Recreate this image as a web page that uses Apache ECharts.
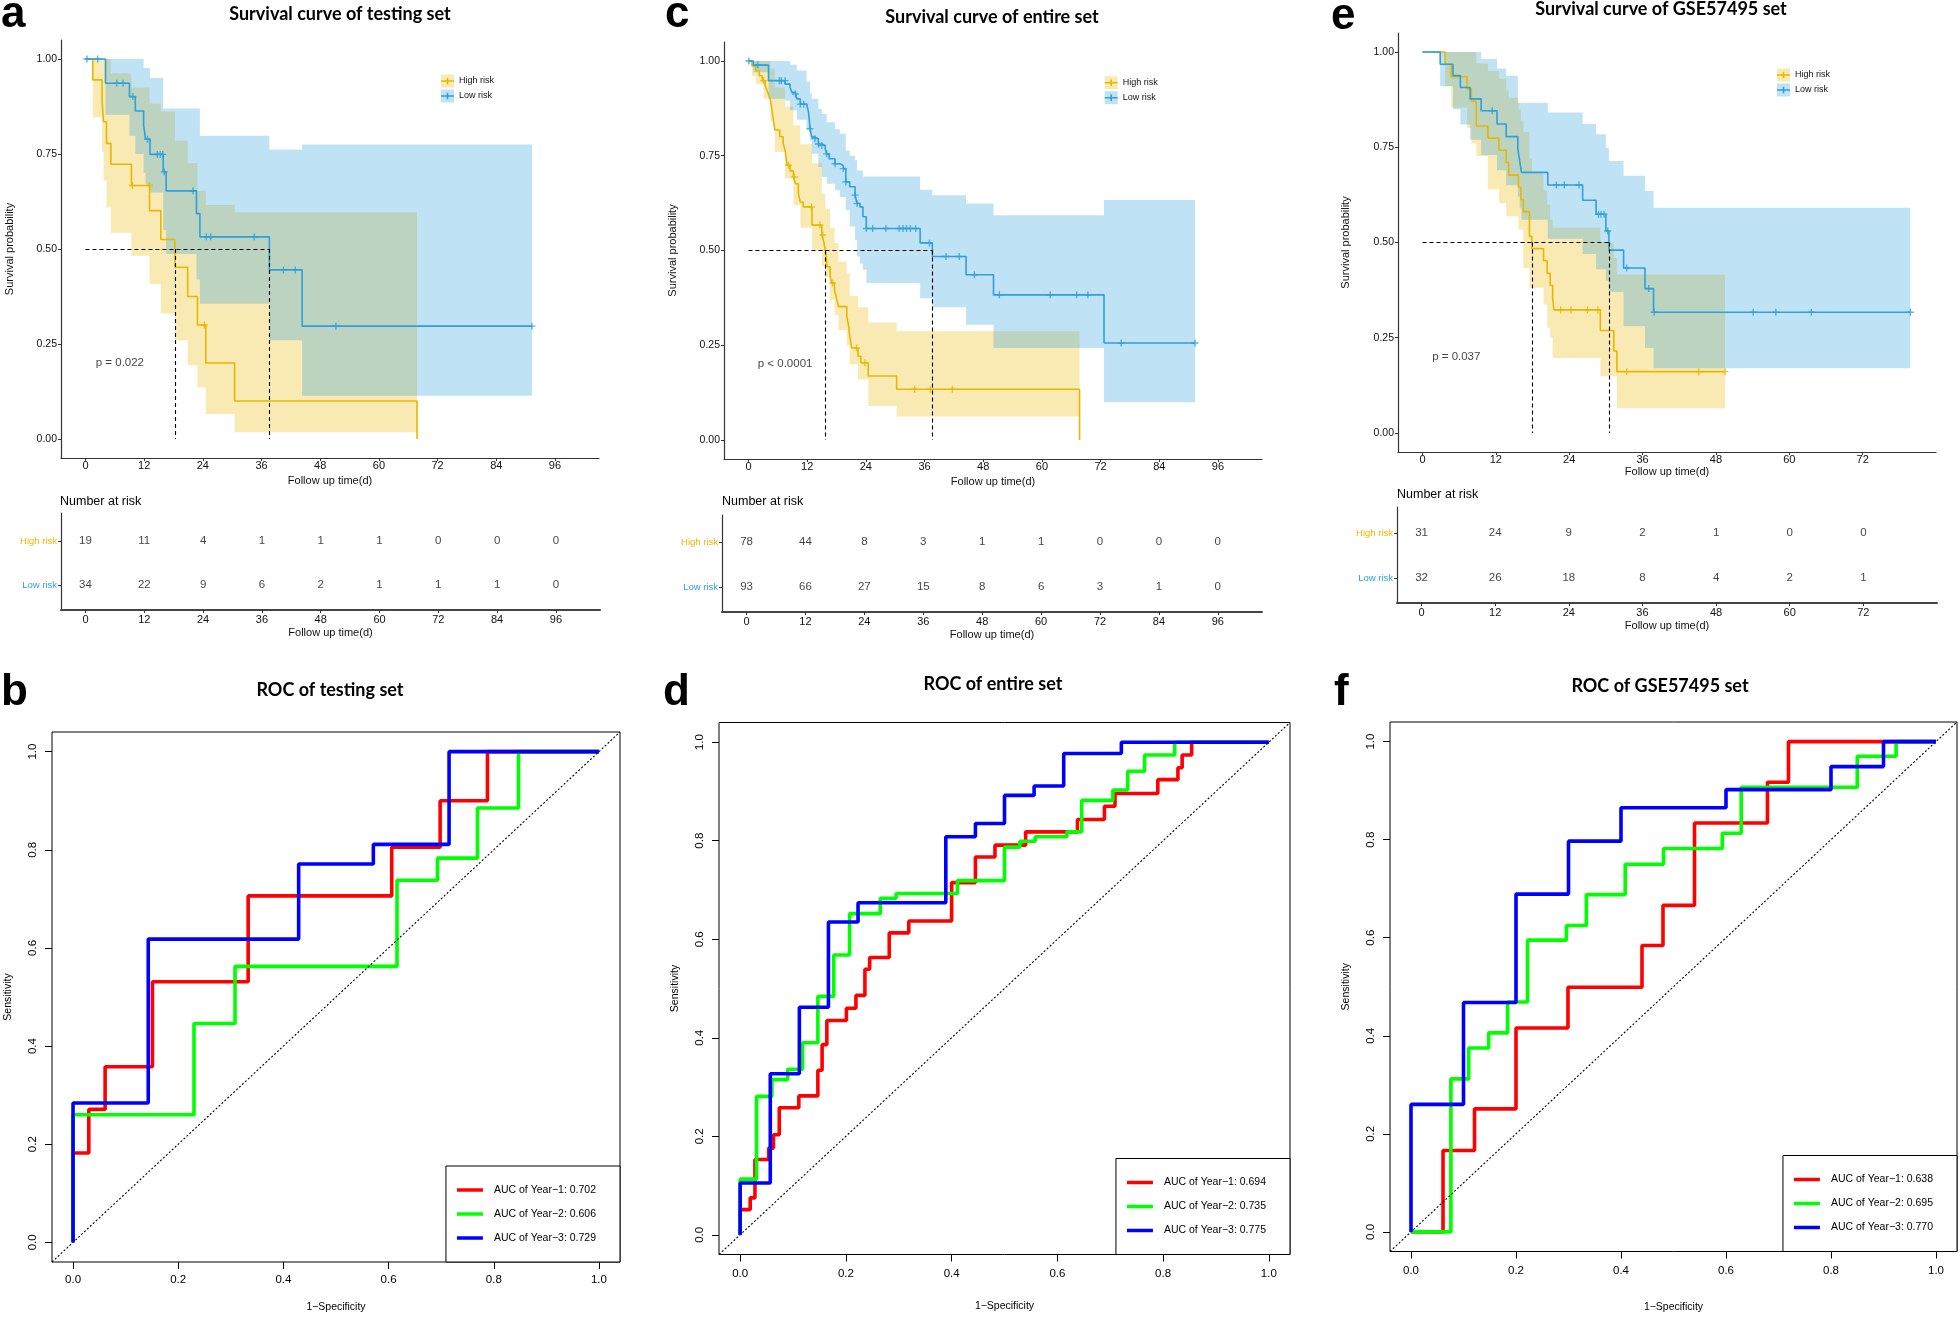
<!DOCTYPE html>
<html><head><meta charset="utf-8">
<script src="https://cdn.jsdelivr.net/npm/echarts@6/dist/echarts.min.js"></script>
<style>html,body{margin:0;padding:0;background:#fff}#c{width:1960px;height:1319px}</style>
</head><body><div id="c"></div>
<script>
// ---------------- DATA ----------------
const kmTicksAC = [0,12,24,36,48,60,72,84,96];
const kmTicksE = [0,12,24,36,48,60,72];
const survTicks = [0,0.25,0.5,0.75,1];
const rocTicks = [0,0.2,0.4,0.6,0.8,1];
const riskRows = ['Low risk','High risk'];

// Panel a: survival curve of testing set  [time, survival]
const kmA_high = [[0,1],[1.5,0.945],[3.4,0.888],[3.7,0.835],[4.3,0.778],[5.2,0.723],[9.4,0.667],[13.1,0.601],[15.4,0.525],[18.3,0.452],[20.9,0.375],[22.9,0.30],[24.6,0.20],[30.5,0.10],[67.8,0]];
const kmA_highCens = [[9.6,0.667],[13.1,0.667],[24.3,0.30]];
const kmA_highBand = [[0,1,1],[1.5,0.846,1],[3.4,0.756,1],[3.7,0.68,1],[4.3,0.61,1],[5.2,0.543,0.962],[9.4,0.482,0.925],[13.1,0.408,0.883],[15.4,0.33,0.862],[18.3,0.26,0.785],[20.9,0.194,0.726],[22.9,0.136,0.653],[24.6,0.066,0.616],[30.5,0.018,0.597]];
const kmA_highEnd = 67.8;
const kmA_low = [[0,1],[4.1,0.936],[9.0,0.901],[10.2,0.863],[11.9,0.824],[12.3,0.789],[13.2,0.749],[15.9,0.703],[16.5,0.653],[22.7,0.593],[23.4,0.532],[37.6,0.445],[44.3,0.297],[91.3,0.297]];
const kmA_lowCens = [[0.3,1],[2.5,1],[6.4,0.936],[7.7,0.936],[9.7,0.901],[12.7,0.789],[14.7,0.749],[15.3,0.749],[15.8,0.749],[16.1,0.703],[22.0,0.653],[24.7,0.532],[25.6,0.532],[34.5,0.532],[40.5,0.445],[42.9,0.445],[51.2,0.297],[91.3,0.297]];
const kmA_lowBand = [[0,1,1],[4.1,0.853,1],[9.0,0.798,1],[10.2,0.75,1],[11.9,0.70,0.976],[12.3,0.67,0.976],[13.2,0.649,0.95],[15.9,0.55,0.87],[16.5,0.487,0.87],[22.7,0.42,0.87],[23.4,0.356,0.798],[37.6,0.26,0.762],[44.3,0.114,0.775]];
const kmA_lowEnd = 91.3;
const kmA_median = [18.3, 37.6];
const kmA_p = 'p = 0.022';
const kmA_pPos = [2, 0.2];

// Panel c: survival curve of entire set
const kmC_high = [[0,1],[0.7,0.987],[1.5,0.974],[2.2,0.961],[2.8,0.948],[3.4,0.935],[3.8,0.922],[4.2,0.909],[4.5,0.896],[4.8,0.870],[5.1,0.844],[5.4,0.818],[6.4,0.80],[7.1,0.782],[7.5,0.764],[7.9,0.725],[8.5,0.71],[9.2,0.694],[9.6,0.676],[10.2,0.65],[10.6,0.628],[11.2,0.615],[13.0,0.567],[15.0,0.541],[15.4,0.523],[15.7,0.501],[15.9,0.484],[16.1,0.457],[16.7,0.431],[17.0,0.414],[17.6,0.396],[18.0,0.374],[18.4,0.352],[20.1,0.326],[20.5,0.30],[20.7,0.274],[21.1,0.243],[22.4,0.221],[23.0,0.204],[24.5,0.169],[30.3,0.134],[67.7,0]];
const kmC_highCens = [[3.1,0.948],[8.2,0.725],[9.4,0.694],[12.9,0.615],[14.6,0.567],[15.2,0.541],[17.2,0.414],[22.1,0.243],[23.8,0.204],[34.0,0.134],[37.2,0.134],[41.7,0.134]];
const kmC_highBand = [[0,1,1],[0.7,0.96,1],[1.5,0.94,1],[3.1,0.90,1],[4.5,0.84,0.98],[5.4,0.76,0.93],[7.5,0.69,0.88],[9.2,0.62,0.83],[10.6,0.56,0.78],[13.0,0.50,0.73],[15.0,0.46,0.65],[15.7,0.43,0.61],[16.7,0.37,0.56],[17.6,0.33,0.52],[18.4,0.29,0.47],[20.1,0.25,0.44],[20.7,0.20,0.38],[22.4,0.16,0.35],[24.5,0.09,0.31],[30.3,0.062,0.287]];
const kmC_highEnd = 67.7;
const kmC_low = [[0,1],[1.0,0.989],[4.1,0.948],[7.5,0.939],[8.5,0.93],[8.9,0.917],[9.6,0.913],[9.9,0.90],[10.6,0.886],[11.9,0.882],[12.3,0.864],[12.6,0.821],[12.95,0.799],[13.6,0.795],[14.3,0.781],[15.0,0.777],[15.7,0.768],[16.0,0.755],[16.5,0.742],[17.7,0.729],[18.7,0.724],[19.4,0.716],[19.9,0.681],[20.7,0.668],[21.8,0.646],[22.2,0.624],[22.8,0.615],[23.4,0.589],[24.1,0.558],[35.1,0.52],[37.6,0.484],[44.5,0.436],[50.1,0.383],[72.7,0.256],[91.3,0.256]];
const kmC_lowCens = [[0.1,1],[1.9,0.989],[6.3,0.948],[6.7,0.948],[7.5,0.948],[9.6,0.913],[10.6,0.886],[11.3,0.886],[12.6,0.821],[13.6,0.795],[14.3,0.781],[15.0,0.777],[16.0,0.755],[17.7,0.729],[19.4,0.716],[19.9,0.681],[21.8,0.646],[22.2,0.624],[24.1,0.558],[25.4,0.558],[28.1,0.558],[30.8,0.558],[31.6,0.558],[32.3,0.558],[33.1,0.558],[34.2,0.558],[37.0,0.52],[40.4,0.484],[43.1,0.484],[46.2,0.436],[51.3,0.383],[61.7,0.383],[67.1,0.383],[69.4,0.383],[76.2,0.256],[91.3,0.256]];
const kmC_lowBand = [[0,1,1],[1.0,0.97,1],[4.1,0.90,1],[7.5,0.895,1],[8.5,0.87,0.99],[9.9,0.845,0.975],[11.9,0.82,0.945],[12.6,0.79,0.915],[12.95,0.755,0.90],[14.3,0.72,0.873],[15.0,0.694,0.86],[16.0,0.676,0.838],[17.7,0.659,0.82],[18.7,0.641,0.808],[19.9,0.606,0.764],[20.7,0.563,0.75],[21.8,0.528,0.738],[22.2,0.484,0.711],[22.8,0.466,0.711],[23.4,0.449,0.695],[24.1,0.414,0.695],[35.1,0.374,0.66],[37.6,0.35,0.646],[44.5,0.304,0.624],[50.1,0.243,0.593],[72.7,0.10,0.633]];
const kmC_lowEnd = 91.3;
const kmC_median = [15.7, 37.6];
const kmC_p = 'p < 0.0001';
const kmC_pPos = [1.8, 0.2];

// Panel e: survival curve of GSE57495 set
const kmE_high = [[0,1],[3.7,0.968],[4.7,0.935],[7.3,0.903],[8.0,0.871],[8.8,0.806],[10.7,0.774],[12.5,0.742],[13.7,0.710],[14.1,0.677],[15.7,0.645],[16.1,0.613],[16.5,0.581],[17.5,0.516],[17.9,0.484],[19.8,0.452],[20.4,0.419],[20.9,0.387],[21.3,0.355],[21.5,0.323],[29.1,0.269],[31.3,0.215],[31.8,0.161],[49.5,0.161]];
const kmE_highCens = [[22.6,0.323],[24.3,0.323],[27.0,0.323],[28.7,0.323],[33.4,0.161],[45.2,0.161],[49.5,0.161]];
const kmE_highBand = [[0,1,1],[3.7,0.91,1],[4.7,0.854,1],[7.3,0.80,1],[8.0,0.76,1],[8.8,0.727,0.97],[10.7,0.64,0.95],[12.5,0.604,0.93],[13.7,0.569,0.90],[14.1,0.569,0.88],[15.7,0.534,0.85],[16.1,0.534,0.82],[16.5,0.433,0.79],[17.5,0.381,0.72],[17.9,0.381,0.683],[19.8,0.337,0.637],[20.4,0.276,0.60],[20.9,0.25,0.56],[21.3,0.197,0.539],[29.1,0.149,0.50],[31.3,0.149,0.46],[31.8,0.065,0.416]];
const kmE_highEnd = 49.5;
const kmE_low = [[0,1],[2.9,0.968],[5.0,0.938],[6.2,0.907],[7.8,0.877],[9.6,0.846],[12.2,0.811],[13.7,0.778],[15.6,0.745],[15.9,0.714],[16.2,0.684],[20.5,0.651],[26.2,0.611],[28.4,0.574],[30.0,0.53],[30.5,0.48],[32.9,0.433],[36.4,0.379],[37.8,0.317],[79.8,0.317]];
const kmE_lowCens = [[11.4,0.846],[21.9,0.651],[23.2,0.651],[25.6,0.651],[28.8,0.574],[29.2,0.574],[29.7,0.574],[30.3,0.53],[33.4,0.433],[37.0,0.379],[37.9,0.317],[54.1,0.317],[57.8,0.317],[63.6,0.317],[79.8,0.317]];
const kmE_lowBand = [[0,1,1],[2.9,0.91,1],[5.0,0.85,1],[6.2,0.81,1],[7.8,0.77,1],[9.6,0.73,0.982],[12.2,0.69,0.957],[13.7,0.65,0.938],[15.6,0.62,0.867],[15.9,0.59,0.867],[16.2,0.56,0.867],[20.5,0.51,0.841],[26.2,0.47,0.811],[28.4,0.43,0.784],[30.0,0.40,0.749],[30.5,0.37,0.714],[32.9,0.28,0.675],[36.4,0.223,0.635],[37.8,0.17,0.591]];
const kmE_lowEnd = 79.8;
const kmE_median = [17.9, 30.5];
const kmE_p = 'p = 0.037';
const kmE_pPos = [1.5, 0.2];

// Number at risk tables
const riskTimesAC = [0,12,24,36,48,60,72,84,96];
const riskTimesE = [0,12,24,36,48,60,72];
const riskA_high = [19,11,4,1,1,1,0,0,0];
const riskA_low = [34,22,9,6,2,1,1,1,0];
const riskC_high = [78,44,8,3,1,1,0,0,0];
const riskC_low = [93,66,27,15,8,6,3,1,0];
const riskE_high = [31,24,9,2,1,0,0];
const riskE_low = [32,26,18,8,4,2,1];

// ROC curves [1-specificity, sensitivity]
const rocB_y1 = [[0,0],[0,0.182],[0.030,0.182],[0.030,0.271],[0.061,0.271],[0.061,0.358],[0.151,0.358],[0.151,0.531],[0.333,0.531],[0.333,0.706],[0.606,0.706],[0.606,0.805],[0.698,0.805],[0.698,0.90],[0.788,0.90],[0.788,1],[1,1]];
const rocB_y2 = [[0,0],[0,0.26],[0.23,0.26],[0.23,0.446],[0.308,0.446],[0.308,0.5625],[0.616,0.5625],[0.616,0.738],[0.693,0.738],[0.693,0.783],[0.769,0.783],[0.769,0.885],[0.847,0.885],[0.847,1],[1,1]];
const rocB_y3 = [[0,0],[0,0.284],[0.143,0.284],[0.143,0.618],[0.429,0.618],[0.429,0.771],[0.571,0.771],[0.571,0.811],[0.715,0.811],[0.715,1],[1,1]];
const rocB_auc = ['0.702','0.606','0.729'];

const rocD_y1 = [[0,0],[0,0.051],[0.019,0.051],[0.019,0.075],[0.028,0.075],[0.028,0.153],[0.054,0.153],[0.054,0.176],[0.063,0.176],[0.063,0.203],[0.074,0.203],[0.074,0.258],[0.111,0.258],[0.111,0.282],[0.147,0.282],[0.147,0.334],[0.155,0.334],[0.155,0.386],[0.164,0.386],[0.164,0.435],[0.201,0.435],[0.201,0.46],[0.219,0.46],[0.219,0.486],[0.236,0.486],[0.236,0.539],[0.245,0.539],[0.245,0.563],[0.282,0.563],[0.282,0.613],[0.319,0.613],[0.319,0.637],[0.40,0.637],[0.40,0.715],[0.445,0.715],[0.445,0.767],[0.482,0.767],[0.482,0.791],[0.54,0.791],[0.54,0.818],[0.638,0.818],[0.638,0.843],[0.689,0.843],[0.689,0.87],[0.709,0.87],[0.709,0.896],[0.79,0.896],[0.79,0.924],[0.828,0.924],[0.828,0.948],[0.836,0.948],[0.836,0.974],[0.854,0.974],[0.854,1],[1,1]];
const rocD_y2 = [[0,0],[0,0.113],[0.031,0.113],[0.031,0.281],[0.060,0.281],[0.060,0.315],[0.090,0.315],[0.090,0.336],[0.118,0.336],[0.118,0.39],[0.147,0.39],[0.147,0.484],[0.177,0.484],[0.177,0.568],[0.207,0.568],[0.207,0.652],[0.265,0.652],[0.265,0.683],[0.295,0.683],[0.295,0.693],[0.411,0.693],[0.411,0.719],[0.50,0.719],[0.50,0.787],[0.529,0.787],[0.529,0.799],[0.558,0.799],[0.558,0.808],[0.618,0.808],[0.618,0.818],[0.646,0.818],[0.646,0.882],[0.705,0.882],[0.705,0.903],[0.733,0.903],[0.733,0.941],[0.765,0.941],[0.765,0.974],[0.822,0.974],[0.822,1],[1,1]];
const rocD_y3 = [[0,0],[0,0.105],[0.057,0.105],[0.057,0.327],[0.112,0.327],[0.112,0.462],[0.167,0.462],[0.167,0.635],[0.223,0.635],[0.223,0.674],[0.389,0.674],[0.389,0.808],[0.445,0.808],[0.445,0.835],[0.50,0.835],[0.50,0.892],[0.556,0.892],[0.556,0.911],[0.612,0.911],[0.612,0.977],[0.721,0.977],[0.721,1],[1,1]];
const rocD_auc = ['0.694','0.735','0.775'];

const rocF_y1 = [[0,0],[0.061,0],[0.061,0.166],[0.121,0.166],[0.121,0.251],[0.20,0.251],[0.20,0.416],[0.299,0.416],[0.299,0.499],[0.44,0.499],[0.44,0.584],[0.48,0.584],[0.48,0.666],[0.54,0.666],[0.54,0.834],[0.679,0.834],[0.679,0.917],[0.719,0.917],[0.719,1],[1,1]];
const rocF_y2 = [[0,0],[0.076,0],[0.076,0.312],[0.11,0.312],[0.11,0.375],[0.148,0.375],[0.148,0.406],[0.184,0.406],[0.184,0.469],[0.222,0.469],[0.222,0.595],[0.296,0.595],[0.296,0.625],[0.334,0.625],[0.334,0.688],[0.408,0.688],[0.408,0.75],[0.481,0.75],[0.481,0.782],[0.593,0.782],[0.593,0.813],[0.629,0.813],[0.629,0.907],[0.85,0.907],[0.85,0.97],[0.924,0.97],[0.924,1],[1,1]];
const rocF_y3 = [[0,0],[0,0.26],[0.1,0.26],[0.1,0.468],[0.2,0.468],[0.2,0.689],[0.3,0.689],[0.3,0.797],[0.4,0.797],[0.4,0.865],[0.6,0.865],[0.6,0.902],[0.8,0.902],[0.8,0.949],[0.9,0.949],[0.9,1],[1,1]];
const rocF_auc = ['0.638','0.695','0.770'];

// ---------------- STYLE ----------------
const FONT = "'Liberation Sans', Arial, Helvetica, sans-serif";
const TFONT = "Lato, 'Open Sans', sans-serif";
const GOLD = '#E7B800', BLUE = '#2E9FDF';
const GOLD_F = 'rgba(231,184,0,0.3)', BLUE_F = 'rgba(46,159,223,0.3)';
const PLUS = 'path://M4,0H6V4H10V6H6V10H4V6H0V4H4Z';
const KEY = 'path://M0,5.7H13V7.3H0Z M5.7,3.2H7.3V9.8H5.7Z';
const ROCC = ['#FF0000','#00FF00','#0000FF'];

// ---------------- BUILD ----------------
const grids = [
  {left:61, top:40, width:538, height:418},
  {left:724, top:42, width:538, height:417},
  {left:1398, top:33, width:538, height:419},
  {left:61, top:513, width:539, height:97},
  {left:722, top:515, width:540, height:97},
  {left:1397, top:507, width:540, height:96},
  {left:52, top:732, width:568, height:530, show:true, borderColor:'#000', borderWidth:1},
  {left:719, top:722.5, width:571, height:532, show:true, borderColor:'#000', borderWidth:1},
  {left:1390, top:722, width:567, height:529.5, show:true, borderColor:'#000', borderWidth:1}
];

const axLine = {show:true, onZero:false, lineStyle:{color:'#333', width:1.2}};
function kmX(g, min, max, ticks, nameGap) {
  return {gridIndex:g, type:'value', min, max, name:'Follow up time(d)', nameLocation:'middle', nameGap,
    nameTextStyle:{fontSize:11, color:'#111', fontFamily:FONT},
    axisLine:axLine, axisTick:{show:true, length:3, customValues:ticks, lineStyle:{color:'#333'}},
    axisLabel:{customValues:ticks, fontSize:11, color:'#111', margin:2, fontFamily:FONT}, splitLine:{show:false}};
}
function kmY(g, nameGap) {
  return {gridIndex:g, type:'value', min:-0.05, max:1.05, name:'Survival probability', nameLocation:'middle', nameGap, nameRotate:90,
    nameTextStyle:{fontSize:11, color:'#111', fontFamily:FONT},
    axisLine:axLine, axisTick:{show:true, length:3, customValues:survTicks, lineStyle:{color:'#333'}},
    axisLabel:{customValues:survTicks, formatter:v=>v.toFixed(2), fontSize:10.5, color:'#111', margin:4, fontFamily:FONT}, splitLine:{show:false}};
}
function rtX(g, min, max, ticks) {
  return {gridIndex:g, type:'value', min, max, name:'Follow up time(d)', nameLocation:'middle', nameGap:17,
    nameTextStyle:{fontSize:11, color:'#111', fontFamily:FONT},
    axisLine:{show:true, onZero:false, lineStyle:{color:'#444', width:2}}, axisTick:{show:true, length:3, customValues:ticks, lineStyle:{color:'#333'}},
    axisLabel:{customValues:ticks, fontSize:11, color:'#111', margin:4, fontFamily:FONT}, splitLine:{show:false}};
}
function rtY(g, min, max) {
  return {gridIndex:g, type:'value', min, max,
    axisLine:{show:true, onZero:false, lineStyle:{color:'#333', width:1.2}},
    axisTick:{show:true, length:3, customValues:[0,1], lineStyle:{color:'#333'}},
    axisLabel:{customValues:[0,1], formatter:v=>riskRows[Math.round(v)], fontSize:9.5, margin:4, fontFamily:FONT,
      color:(v)=> (String(v)==='1' || v==='High risk') ? GOLD : BLUE}, splitLine:{show:false}};
}
function rocX(g, margin, nameGap) {
  return {gridIndex:g, type:'value', min:-0.04, max:1.04, name:'1\u2212Specificity', nameLocation:'middle', nameGap,
    nameTextStyle:{fontSize:10.5, color:'#000', fontFamily:FONT},
    axisLine:{show:false, onZero:false}, axisTick:{show:true, length:7, customValues:rocTicks, lineStyle:{color:'#000'}},
    axisLabel:{customValues:rocTicks, formatter:v=>v.toFixed(1), fontSize:11.5, color:'#000', margin, fontFamily:FONT}, splitLine:{show:false}};
}
function rocY(g, margin, nameGap) {
  return {gridIndex:g, type:'value', min:-0.04, max:1.04, name:'Sensitivity', nameLocation:'middle', nameGap, nameRotate:90,
    nameTextStyle:{fontSize:10.5, color:'#000', fontFamily:FONT},
    axisLine:{show:false, onZero:false}, axisTick:{show:true, length:7, customValues:rocTicks, lineStyle:{color:'#000'}},
    axisLabel:{customValues:rocTicks, formatter:v=>v.toFixed(1), fontSize:11.5, color:'#000', margin, rotate:90, fontFamily:FONT}, splitLine:{show:false}};
}

function band(g, rows, tEnd, fill, name) {
  return {type:'custom', name, xAxisIndex:g, yAxisIndex:g, silent:true, z:1, itemStyle:{color:fill},
    data:rows, encode:{x:0, y:[1,2]},
    renderItem:function(params, api){
      if (params.dataIndex !== 0) return null;
      const up=[], lo=[];
      for (let i=0;i<rows.length;i++){
        const t0=rows[i][0], t1 = i+1<rows.length ? rows[i+1][0] : tEnd;
        up.push(api.coord([t0, rows[i][2]]), api.coord([t1, rows[i][2]]));
        lo.push(api.coord([t0, rows[i][1]]), api.coord([t1, rows[i][1]]));
      }
      return {type:'polygon', shape:{points: up.concat(lo.reverse())}, style:{fill:fill}};
    }};
}
function curve(g, data, color, name, medians) {
  const s = {type:'line', name, xAxisIndex:g, yAxisIndex:g, step:'end', data, showSymbol:false, symbol:'none',
    lineStyle:{color, width:1.6}, itemStyle:{color}, z:3, silent:true};
  if (medians) {
    s.markLine = {silent:true, symbol:['none','none'], label:{show:false}, animation:false,
      lineStyle:{color:'#000', type:[4,3], width:1.1},
      data:[[{coord:[0,0.5]},{coord:[medians[1],0.5]}],
            [{coord:[medians[0],0.5]},{coord:[medians[0],0]}],
            [{coord:[medians[1],0.5]},{coord:[medians[1],0]}]]};
  }
  return s;
}
function cens(g, data, color) {
  return {type:'scatter', xAxisIndex:g, yAxisIndex:g, data, symbol:PLUS, symbolSize:7, itemStyle:{color}, z:4, silent:true};
}
function ptext(g, pos, txt) {
  return {type:'scatter', xAxisIndex:g, yAxisIndex:g, data:[pos], symbolSize:1, itemStyle:{color:'rgba(0,0,0,0)'}, silent:true,
    label:{show:true, formatter:txt, position:'right', distance:0, fontSize:11.5, color:'#111', fontFamily:FONT}};
}
function risk(g, times, vals, row) {
  return {type:'scatter', xAxisIndex:g, yAxisIndex:g, data: vals.map((n,i)=>[times[i], row, n]), symbolSize:1,
    itemStyle:{color:'rgba(0,0,0,0)'}, silent:true,
    label:{show:true, position:'inside', formatter:p=>String(p.value[2]), fontSize:11.5, color:'#111', fontFamily:FONT}};
}
function roc(g, data, i, auc, diag) {
  const s = {type:'line', name:'AUC of Year\u2212'+(i+1)+': '+auc, xAxisIndex:g, yAxisIndex:g, data, showSymbol:false, symbol:'none',
    lineStyle:{color:ROCC[i], width:3.6}, itemStyle:{color:ROCC[i]}, z:3+i, silent:true};
  if (diag) s.markLine = {silent:true, symbol:['none','none'], label:{show:false}, animation:false,
    lineStyle:{color:'#000', type:[2,2], width:1.1}, data:[[{coord:[-0.04,-0.04]},{coord:[1.04,1.04]}]]};
  return s;
}

const series = [
  band(0, kmA_highBand, kmA_highEnd, GOLD_F, 'High band'), band(0, kmA_lowBand, kmA_lowEnd, BLUE_F, 'Low band'),
  curve(0, kmA_high, GOLD, 'High risk', kmA_median), curve(0, kmA_low, BLUE, 'Low risk'),
  cens(0, kmA_highCens, GOLD), cens(0, kmA_lowCens, BLUE), ptext(0, kmA_pPos, kmA_p),

  band(1, kmC_highBand, kmC_highEnd, GOLD_F, 'High band'), band(1, kmC_lowBand, kmC_lowEnd, BLUE_F, 'Low band'),
  curve(1, kmC_high, GOLD, 'High risk', kmC_median), curve(1, kmC_low, BLUE, 'Low risk'),
  cens(1, kmC_highCens, GOLD), cens(1, kmC_lowCens, BLUE), ptext(1, kmC_pPos, kmC_p),

  band(2, kmE_highBand, kmE_highEnd, GOLD_F, 'High band'), band(2, kmE_lowBand, kmE_lowEnd, BLUE_F, 'Low band'),
  curve(2, kmE_high, GOLD, 'High risk', kmE_median), curve(2, kmE_low, BLUE, 'Low risk'),
  cens(2, kmE_highCens, GOLD), cens(2, kmE_lowCens, BLUE), ptext(2, kmE_pPos, kmE_p),

  risk(3, riskTimesAC, riskA_high, 1), risk(3, riskTimesAC, riskA_low, 0),
  risk(4, riskTimesAC, riskC_high, 1), risk(4, riskTimesAC, riskC_low, 0),
  risk(5, riskTimesE, riskE_high, 1), risk(5, riskTimesE, riskE_low, 0),

  roc(6, rocB_y1, 0, rocB_auc[0], true), roc(6, rocB_y2, 1, rocB_auc[1]), roc(6, rocB_y3, 2, rocB_auc[2]),
  roc(7, rocD_y1, 0, rocD_auc[0], true), roc(7, rocD_y2, 1, rocD_auc[1]), roc(7, rocD_y3, 2, rocD_auc[2]),
  roc(8, rocF_y1, 0, rocF_auc[0], true), roc(8, rocF_y2, 1, rocF_auc[1]), roc(8, rocF_y3, 2, rocF_auc[2])
];

function kmLegends(left, top) {
  const base = {left, top, orient:'vertical', padding:0, itemWidth:13, itemHeight:13, itemGap:2, selectedMode:false};
  return [
    Object.assign({}, base, {icon:'rect', data:['High band','Low band'], formatter:()=>'', textStyle:{fontSize:9, lineHeight:13}}),
    Object.assign({}, base, {data:[{name:'High risk', icon:KEY},{name:'Low risk', icon:KEY}],
      textStyle:{fontSize:9, lineHeight:13, height:13, color:'#111', fontFamily:FONT}})
  ];
}
function rocLegend(right, bottom, aucs) {
  return {right, bottom, orient:'vertical', icon:'rect', itemWidth:26, itemHeight:3.5, itemGap:10, selectedMode:false,
    padding:[17,24,17,11], borderColor:'#000', borderWidth:1, backgroundColor:'#fff',
    data: aucs.map((a,i)=>'AUC of Year\u2212'+(i+1)+': '+a),
    textStyle:{fontSize:10.5, lineHeight:14, height:14, color:'#000', fontFamily:FONT, padding:[0,0,0,6]}};
}
const legends = [].concat(kmLegends(441, 74.5), kmLegends(1104.7, 76.2), kmLegends(1777, 68.5),
  [rocLegend(1960-620, 1319-1262, rocB_auc), rocLegend(1960-1290, 1319-1254.5, rocD_auc), rocLegend(1960-1957, 1319-1251.5, rocF_auc)]);

function ttl(text, x, top, size, font, weight, align) {
  return {text, left:x, top, padding:0, textAlign:align||'center', textStyle:{fontSize:size, fontFamily:font, fontWeight:weight, color:'#000'}};
}
const titles = [
  ttl('Survival curve of testing set', 340, 5, 18, TFONT, 'bold'),
  ttl('Survival curve of entire set', 992, 8, 18, TFONT, 'bold'),
  ttl('Survival curve of GSE57495 set', 1661, 0, 18, TFONT, 'bold'),
  ttl('ROC of testing set', 330, 681, 18, TFONT, 'bold'),
  ttl('ROC of entire set', 993, 675, 18, TFONT, 'bold'),
  ttl('ROC of GSE57495 set', 1660, 677, 18, TFONT, 'bold'),
  ttl('Number at risk', 60, 495, 12.5, FONT, 'normal', 'left'),
  ttl('Number at risk', 722, 495, 12.5, FONT, 'normal', 'left'),
  ttl('Number at risk', 1397, 488, 12.5, FONT, 'normal', 'left'),
  ttl('a', 1, -7, 44, FONT, 'bold', 'left'),
  ttl('c', 665, -7, 44, FONT, 'bold', 'left'),
  ttl('e', 1331, -5, 44, FONT, 'bold', 'left'),
  ttl('b', 1, 671, 44, FONT, 'bold', 'left'),
  ttl('d', 663, 671, 44, FONT, 'bold', 'left'),
  ttl('f', 1334, 671, 44, FONT, 'bold', 'left')
];

const option = {
  animation:false,
  backgroundColor:'#fff',
  textStyle:{fontFamily:FONT},
  title:titles,
  legend:legends,
  grid:grids,
  xAxis:[kmX(0,-5,105,kmTicksAC,17), kmX(1,-5,105,kmTicksAC,17), kmX(2,-4,84,kmTicksE,14),
         rtX(3,-5,105,riskTimesAC), rtX(4,-5,105,riskTimesAC), rtX(5,-4,84,riskTimesE),
         rocX(6,12,40), rocX(7,13,46), rocX(8,13,50)],
  yAxis:[kmY(0,46), kmY(1,46), kmY(2,47),
         rtY(3,-0.568,1.636), rtY(4,-0.556,1.6), rtY(5,-0.556,1.578),
         rocY(6,13,38), rocY(7,13,38), rocY(8,13,38)],
  series
};
const chart = echarts.init(document.getElementById('c'), null, {renderer:'canvas'});
chart.setOption(option);
</script></body></html>
